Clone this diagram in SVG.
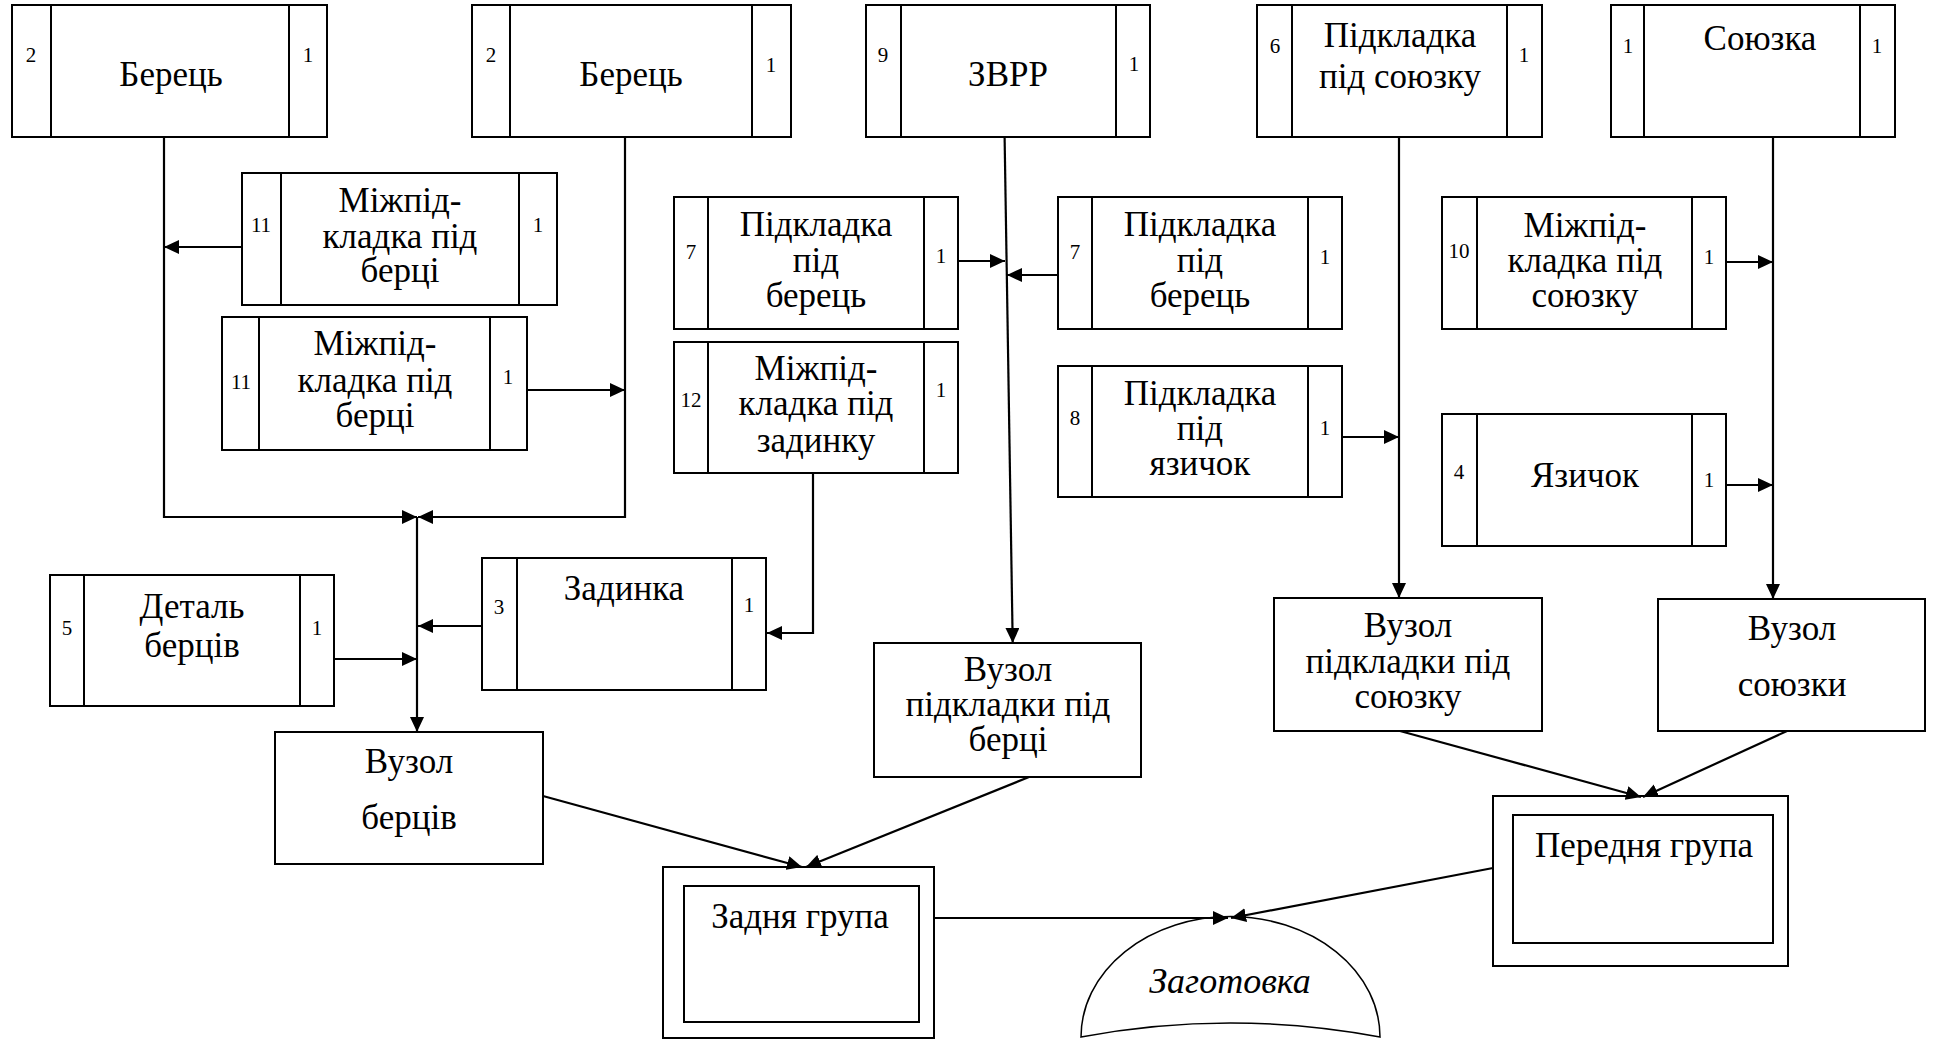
<svg xmlns="http://www.w3.org/2000/svg" width="1937" height="1039" viewBox="0 0 1937 1039">
<style>
.b{fill:#fff;stroke:#000;stroke-width:2}
.d{stroke:#000;stroke-width:2;fill:none}
.t{font-family:"Liberation Serif","Times New Roman",serif;font-size:35px;text-anchor:middle;fill:#000}
.n{font-family:"Liberation Serif","Times New Roman",serif;font-size:21px;text-anchor:middle;fill:#000}
.i{font-style:italic;font-size:36px}
.c{stroke:#000;stroke-width:2.2;fill:none;marker-end:url(#ah)}
</style>
<defs>
<marker id="ah" markerWidth="16" markerHeight="14" refX="15" refY="7" orient="auto" markerUnits="userSpaceOnUse"><path d="M0,0 L15,7 L0,14 z" fill="#000"/></marker>
</defs>
<rect width="1937" height="1039" fill="#fff"/>
<g id="n-berets1"><rect class="b" x="12" y="5" width="315" height="132"/><path class="d" d="M51,5V137M289,5V137"/><text class="n" x="31" y="62">2</text><text class="n" x="308" y="62">1</text><text class="t" x="171" y="86">Берець</text></g>
<g id="n-berets2"><rect class="b" x="472" y="5" width="319" height="132"/><path class="d" d="M510,5V137M752,5V137"/><text class="n" x="491" y="62">2</text><text class="n" x="771" y="72">1</text><text class="t" x="631" y="86">Берець</text></g>
<g id="n-zvrr"><rect class="b" x="866" y="5" width="284" height="132"/><path class="d" d="M901,5V137M1116,5V137"/><text class="n" x="883" y="62">9</text><text class="n" x="1134" y="71">1</text><text class="t" x="1008" y="86">ЗВРР</text></g>
<g id="n-pidsoyuz"><rect class="b" x="1257" y="5" width="285" height="132"/><path class="d" d="M1292,5V137M1507,5V137"/><text class="n" x="1275" y="53">6</text><text class="n" x="1524" y="62">1</text><text class="t" x="1400" y="47">Підкладка</text><text class="t" x="1400" y="88">під союзку</text></g>
<g id="n-soyuzka"><rect class="b" x="1611" y="5" width="284" height="132"/><path class="d" d="M1644,5V137M1860,5V137"/><text class="n" x="1628" y="53">1</text><text class="n" x="1877" y="53">1</text><text class="t" x="1760" y="50">Союзка</text></g>
<g id="n-mizh1"><rect class="b" x="242" y="173" width="315" height="132"/><path class="d" d="M281,173V305M519,173V305"/><text class="n" x="261" y="232">11</text><text class="n" x="538" y="232">1</text><text class="t" x="400" y="212">Міжпід-</text><text class="t" x="400" y="248">кладка  під</text><text class="t" x="400" y="282">берці</text></g>
<g id="n-mizh2"><rect class="b" x="222" y="317" width="305" height="133"/><path class="d" d="M259,317V450M490,317V450"/><text class="n" x="241" y="389">11</text><text class="n" x="508" y="384">1</text><text class="t" x="375" y="355">Міжпід-</text><text class="t" x="375" y="392">кладка  під</text><text class="t" x="375" y="427">берці</text></g>
<g id="n-pidber1"><rect class="b" x="674" y="197" width="284" height="132"/><path class="d" d="M708,197V329M924,197V329"/><text class="n" x="691" y="259">7</text><text class="n" x="941" y="263">1</text><text class="t" x="816" y="236">Підкладка</text><text class="t" x="816" y="272">під</text><text class="t" x="816" y="307">берець</text></g>
<g id="n-pidber2"><rect class="b" x="1058" y="197" width="284" height="132"/><path class="d" d="M1092,197V329M1308,197V329"/><text class="n" x="1075" y="259">7</text><text class="n" x="1325" y="264">1</text><text class="t" x="1200" y="236">Підкладка</text><text class="t" x="1200" y="272">під</text><text class="t" x="1200" y="307">берець</text></g>
<g id="n-mizhzad"><rect class="b" x="674" y="342" width="284" height="131"/><path class="d" d="M708,342V473M924,342V473"/><text class="n" x="691" y="407">12</text><text class="n" x="941" y="397">1</text><text class="t" x="816" y="380">Міжпід-</text><text class="t" x="816" y="415">кладка  під</text><text class="t" x="816" y="452">задинку</text></g>
<g id="n-pidyaz"><rect class="b" x="1058" y="366" width="284" height="131"/><path class="d" d="M1092,366V497M1308,366V497"/><text class="n" x="1075" y="425">8</text><text class="n" x="1325" y="435">1</text><text class="t" x="1200" y="405">Підкладка</text><text class="t" x="1200" y="440">під</text><text class="t" x="1200" y="475">язичок</text></g>
<g id="n-mizhsoyuz"><rect class="b" x="1442" y="197" width="284" height="132"/><path class="d" d="M1477,197V329M1692,197V329"/><text class="n" x="1459" y="258">10</text><text class="n" x="1709" y="264">1</text><text class="t" x="1585" y="237">Міжпід-</text><text class="t" x="1585" y="272">кладка  під</text><text class="t" x="1585" y="307">союзку</text></g>
<g id="n-yazychok"><rect class="b" x="1442" y="414" width="284" height="132"/><path class="d" d="M1477,414V546M1692,414V546"/><text class="n" x="1459" y="479">4</text><text class="n" x="1709" y="487">1</text><text class="t" x="1585" y="487">Язичок</text></g>
<g id="n-zadynka"><rect class="b" x="482" y="558" width="284" height="132"/><path class="d" d="M517,558V690M732,558V690"/><text class="n" x="499" y="614">3</text><text class="n" x="749" y="612">1</text><text class="t" x="624" y="600">Задинка</text></g>
<g id="n-detal"><rect class="b" x="50" y="575" width="284" height="131"/><path class="d" d="M84,575V706M300,575V706"/><text class="n" x="67" y="635">5</text><text class="n" x="317" y="635">1</text><text class="t" x="192" y="618">Деталь</text><text class="t" x="192" y="657">берців</text></g>
<g id="n-vuzber"><rect class="b" x="275" y="732" width="268" height="132"/><text class="t" x="409" y="773">Вузол</text><text class="t" x="409" y="829">берців</text></g>
<g id="n-vuzpidber"><rect class="b" x="874" y="643" width="267" height="134"/><text class="t" x="1008" y="681">Вузол</text><text class="t" x="1008" y="716">підкладки під</text><text class="t" x="1008" y="751">берці</text></g>
<g id="n-vuzpidsoyuz"><rect class="b" x="1274" y="598" width="268" height="133"/><text class="t" x="1408" y="637">Вузол</text><text class="t" x="1408" y="673">підкладки під</text><text class="t" x="1408" y="708">союзку</text></g>
<g id="n-vuzsoyuz"><rect class="b" x="1658" y="599" width="267" height="132"/><text class="t" x="1792" y="640">Вузол</text><text class="t" x="1792" y="696">союзки</text></g>
<g id="n-zadnya"><rect class="b" x="663" y="867" width="271" height="171"/><rect class="b" x="684" y="886" width="235" height="136"/><text class="t" x="800" y="928">Задня група</text></g>
<g id="n-perednya"><rect class="b" x="1493" y="796" width="295" height="170"/><rect class="b" x="1513" y="815" width="260" height="128"/><text class="t" x="1644" y="857">Передня група</text></g>
<g id="n-zagotovka"><path d="M1081,1037 A149,120 0 0 1 1380,1037 Q1230,1009 1081,1037 Z" fill="#fff" stroke="#000" stroke-width="1.5"/><text class="t i" x="1230" y="993">Заготовка</text></g>
<g id="connectors">
<path class="c" d="M164,137V517H417"/>
<path class="c" d="M625,137V517H418"/>
<path class="c" d="M242,247H164"/>
<path class="c" d="M527,390H625"/>
<path class="c" d="M417,517V732"/>
<path class="c" d="M482,626H418"/>
<path class="c" d="M334,659H417"/>
<path class="c" d="M813,473V633H767"/>
<path class="c" d="M1004.6,137L1012.7,643"/>
<path class="c" d="M958,261H1005"/>
<path class="c" d="M1058,275H1007"/>
<path class="c" d="M1399,137V598"/>
<path class="c" d="M1342,437H1399"/>
<path class="c" d="M1773,137V599"/>
<path class="c" d="M1726,262H1773"/>
<path class="c" d="M1726,485H1773"/>
<path class="c" d="M543,796L802,867"/>
<path class="c" d="M1029,777L806,867"/>
<path class="c" d="M1400,731L1641,797"/>
<path class="c" d="M1787,731L1643,797"/>
<path class="c" d="M934,918H1228"/>
<path class="c" d="M1493,868L1231,918"/>
</g>
</svg>
